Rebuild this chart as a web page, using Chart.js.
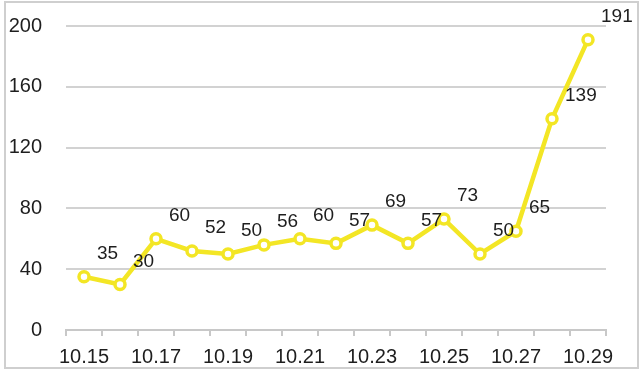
<html>
<head>
<script src="https://cdn.jsdelivr.net/npm/chart.js@4"></script>
<style>
  body { margin: 0; background: #fff; }
  #wrap { width: 640px; height: 374px; }
</style>
</head>
<body>
<div id="wrap"><canvas id="myChart" width="640" height="374"></canvas></div>
<script>
// data
var days = ["10.15", "10.16", "10.17", "10.18", "10.19", "10.20", "10.21", "10.22",
            "10.23", "10.24", "10.25", "10.26", "10.27", "10.28", "10.29"];
var counts = [35, 30, 60, 52, 50, 56, 60, 57, 69, 57, 73, 50, 65, 139, 191];
var yTicks = [0, 40, 80, 120, 160, 200];

var yellow = '#f3e625';
var textColor = '#1e1e1e';
var fontName = '"Liberation Sans", Arial, Helvetica, sans-serif';

// grey frame round the picture
var framePlugin = {
    id: 'frame',
    beforeDraw: function(chart) {
        var c = chart.ctx;
        c.save();
        c.fillStyle = '#fff';
        c.fillRect(0, 0, chart.width, chart.height);
        c.strokeStyle = '#cfcfcf';
        c.lineWidth = 2;
        c.strokeRect(5, 2, 633, 366);
        c.restore();
    }
};

// value labels, up and to the right of each point
var valuePlugin = {
    id: 'values',
    afterDatasetsDraw: function(chart) {
        var c = chart.ctx;
        var meta = chart.getDatasetMeta(0);
        c.save();
        c.font = '19px ' + fontName;
        c.fillStyle = textColor;
        c.textAlign = 'left';
        c.textBaseline = 'middle';
        meta.data.forEach(function(pt, i) {
            c.fillText(String(counts[i]), pt.x + 13, pt.y - 23);
        });
        c.restore();
    }
};

var ctx = document.getElementById('myChart').getContext('2d');
var chart = new Chart(ctx, {
    type: 'line',
    data: {
        labels: days,
        datasets: [{
            data: counts,
            borderColor: yellow,
            borderWidth: 4.5,
            backgroundColor: '#fff',
            pointBackgroundColor: '#fff',
            pointBorderColor: yellow,
            pointBorderWidth: 3.5,
            pointRadius: 5,
            tension: 0
        }]
    },
    options: {
        responsive: false,
        animation: false,
        layout: { padding: { left: 0, right: 34, top: 26, bottom: 0 } },
        plugins: {
            legend: { display: false },
            tooltip: { enabled: false }
        },
        scales: {
            x: {
                offset: true,
                afterFit: function(s) { s.height = 44; },
                border: { display: true, color: '#c8c8c8', width: 2 },
                grid: {
                    offset: true,
                    drawOnChartArea: false,
                    drawTicks: true,
                    tickLength: 6,
                    color: '#c8c8c8',
                    lineWidth: 2
                },
                ticks: {
                    autoSkip: false,
                    maxRotation: 0,
                    padding: 9,
                    color: textColor,
                    font: { family: fontName, size: 20 },
                    callback: function(v, i) { return i % 2 === 0 ? days[i] : ''; }
                }
            },
            y: {
                min: 0,
                max: 200,
                afterFit: function(s) {
                    s.width = 66;
                    s.paddingTop = 0;
                    s.paddingBottom = 0;
                },
                afterBuildTicks: function(s) {
                    s.ticks = yTicks.map(function(v) { return { value: v }; });
                },
                border: { display: false },
                grid: { color: '#d2d2d2', lineWidth: 2, drawTicks: false },
                ticks: {
                    padding: 24,
                    color: textColor,
                    font: { family: fontName, size: 20 }
                }
            }
        }
    },
    plugins: [framePlugin, valuePlugin]
});
</script>
</body>
</html>
